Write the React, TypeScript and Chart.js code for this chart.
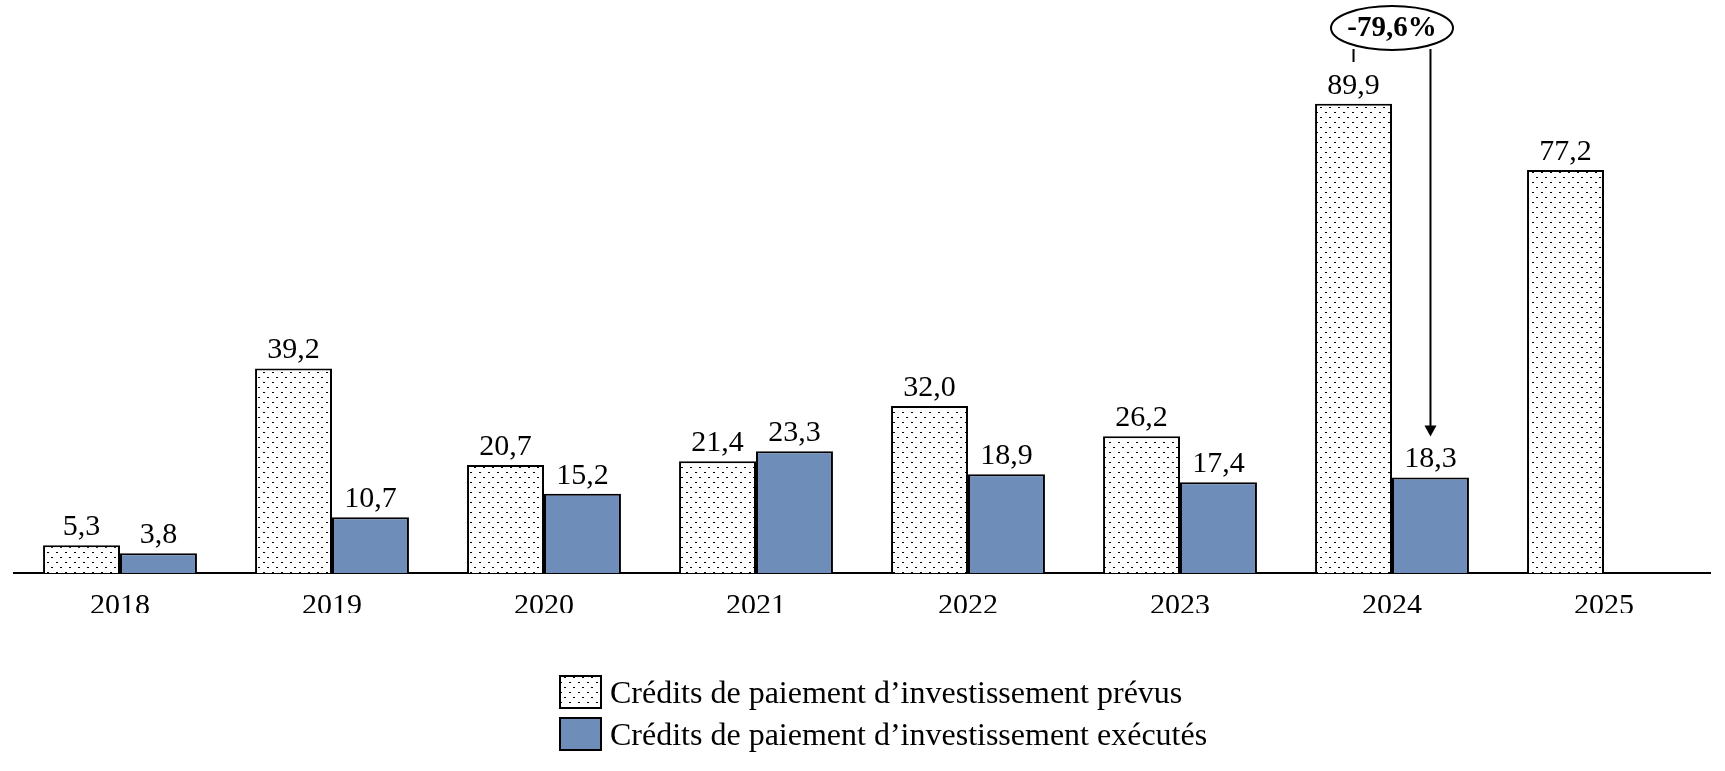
import React, { useEffect, useRef } from "react";
import { Chart, registerables } from "chart.js";

Chart.register(...registerables);

const years = ["2018", "2019", "2020", "2021", "2022", "2023", "2024", "2025"];
const prevus = [5.3, 39.2, 20.7, 21.4, 32.0, 26.2, 89.9, 77.2];
const executes: (number | null)[] = [3.8, 10.7, 15.2, 23.3, 18.9, 17.4, 18.3, null];
const seriesNames = [
  "Crédits de paiement d’investissement prévus",
  "Crédits de paiement d’investissement exécutés",
];
const annotationText = "-79,6%";
const annotationIndex = 6;

const FONT = "'Liberation Serif', 'Times New Roman', serif";
const BLUE = "#6f8db9";

// dotted fill like the original print pattern
function makeDots(): CanvasPattern | string {
  const c = document.createElement("canvas");
  c.width = 9;
  c.height = 10;
  const g = c.getContext("2d");
  if (!g) return "#fff";
  g.fillStyle = "#fff";
  g.fillRect(0, 0, 9, 10);
  g.fillStyle = "#000";
  g.fillRect(2, 2, 2, 1);
  g.fillRect(6, 7, 2, 1);
  return g.createPattern(c, "repeat") || "#fff";
}

const fmt = (v: number) => v.toFixed(1).replace(".", ",");

const extras = {
  id: "extras",
  afterDatasetsDraw(chart: any) {
    const ctx = chart.ctx as CanvasRenderingContext2D;
    ctx.save();
    // value labels
    ctx.fillStyle = "#000";
    ctx.font = `30px ${FONT}`;
    ctx.textAlign = "center";
    ctx.textBaseline = "alphabetic";
    chart.data.datasets.forEach((ds: any, di: number) => {
      const meta = chart.getDatasetMeta(di);
      ds.data.forEach((v: number | null, i: number) => {
        if (v == null) return;
        const el = meta.data[i];
        ctx.fillText(fmt(v), el.x, el.y - 10);
      });
    });

    // -79,6% annotation
    const a = chart.getDatasetMeta(0).data[annotationIndex];
    const b = chart.getDatasetMeta(1).data[annotationIndex];
    const cx = (a.x + b.x) / 2;
    const cy = 28;
    ctx.strokeStyle = "#000";
    ctx.lineWidth = 2;
    ctx.beginPath();
    ctx.ellipse(cx, cy, 61, 22, 0, 0, Math.PI * 2);
    ctx.stroke();
    ctx.font = `bold 29px ${FONT}`;
    ctx.textBaseline = "middle";
    ctx.fillText(annotationText, cx, cy + 1);

    ctx.beginPath();
    ctx.moveTo(a.x, cy + 21);
    ctx.lineTo(a.x, 62);
    ctx.stroke();

    const tipY = b.y - 41;
    ctx.beginPath();
    ctx.moveTo(b.x, cy + 21);
    ctx.lineTo(b.x, tipY - 8);
    ctx.stroke();
    ctx.fillStyle = "#000";
    ctx.beginPath();
    ctx.moveTo(b.x - 6, tipY - 11);
    ctx.lineTo(b.x + 6, tipY - 11);
    ctx.lineTo(b.x, tipY);
    ctx.closePath();
    ctx.fill();

    // legend
    const fills = [chart.data.datasets[0].backgroundColor, BLUE];
    const boxX = 560;
    const boxY = [676, 718];
    ctx.font = `32px ${FONT}`;
    ctx.textAlign = "left";
    ctx.textBaseline = "alphabetic";
    seriesNames.forEach((name, i) => {
      ctx.fillStyle = fills[i];
      ctx.fillRect(boxX, boxY[i], 41, 32);
      ctx.lineWidth = 2;
      ctx.strokeStyle = "#000";
      ctx.strokeRect(boxX, boxY[i], 41, 32);
      ctx.fillStyle = "#000";
      ctx.fillText(name, 610, boxY[i] + 27);
    });
    ctx.restore();
  },
};

const App: React.FC = () => {
  const canvasRef = useRef<HTMLCanvasElement | null>(null);
  const chartRef = useRef<any>(null);

  useEffect(() => {
    document.body.style.margin = "0";
    if (!canvasRef.current) return;
    const ctx = canvasRef.current.getContext("2d");
    if (!ctx) return;
    if (chartRef.current) chartRef.current.destroy();

    const dots = makeDots();

    chartRef.current = new Chart(ctx, {
      type: "bar",
      data: {
        labels: years,
        datasets: [
          {
            label: seriesNames[0],
            data: prevus,
            backgroundColor: dots as any,
            borderColor: "#000",
            borderWidth: 2,
          },
          {
            label: seriesNames[1],
            data: executes,
            backgroundColor: BLUE,
            borderColor: "#000",
            borderWidth: 2,
          },
        ],
      },
      options: {
        animation: false,
        responsive: true,
        maintainAspectRatio: false,
        layout: { padding: { top: 51, left: 14, right: 15, bottom: 158 } },
        datasets: { bar: { barPercentage: 1, categoryPercentage: 0.726 } },
        plugins: { legend: { display: false }, tooltip: { enabled: false } },
        scales: {
          y: { display: false, min: 0, max: 100 },
          x: {
            grid: { display: false },
            border: { display: true, color: "#000", width: 2 },
            ticks: { color: "#000", font: { family: FONT, size: 30 }, padding: 7 },
            afterFit: (scale: any) => {
              scale.height = 40;
            },
          },
        },
      },
      plugins: [extras],
    });

    return () => {
      chartRef.current?.destroy();
    };
  }, []);

  return (
    <div style={{ width: 1725, height: 771, background: "#fff" }}>
      <canvas ref={canvasRef}></canvas>
    </div>
  );
};

export default App;
